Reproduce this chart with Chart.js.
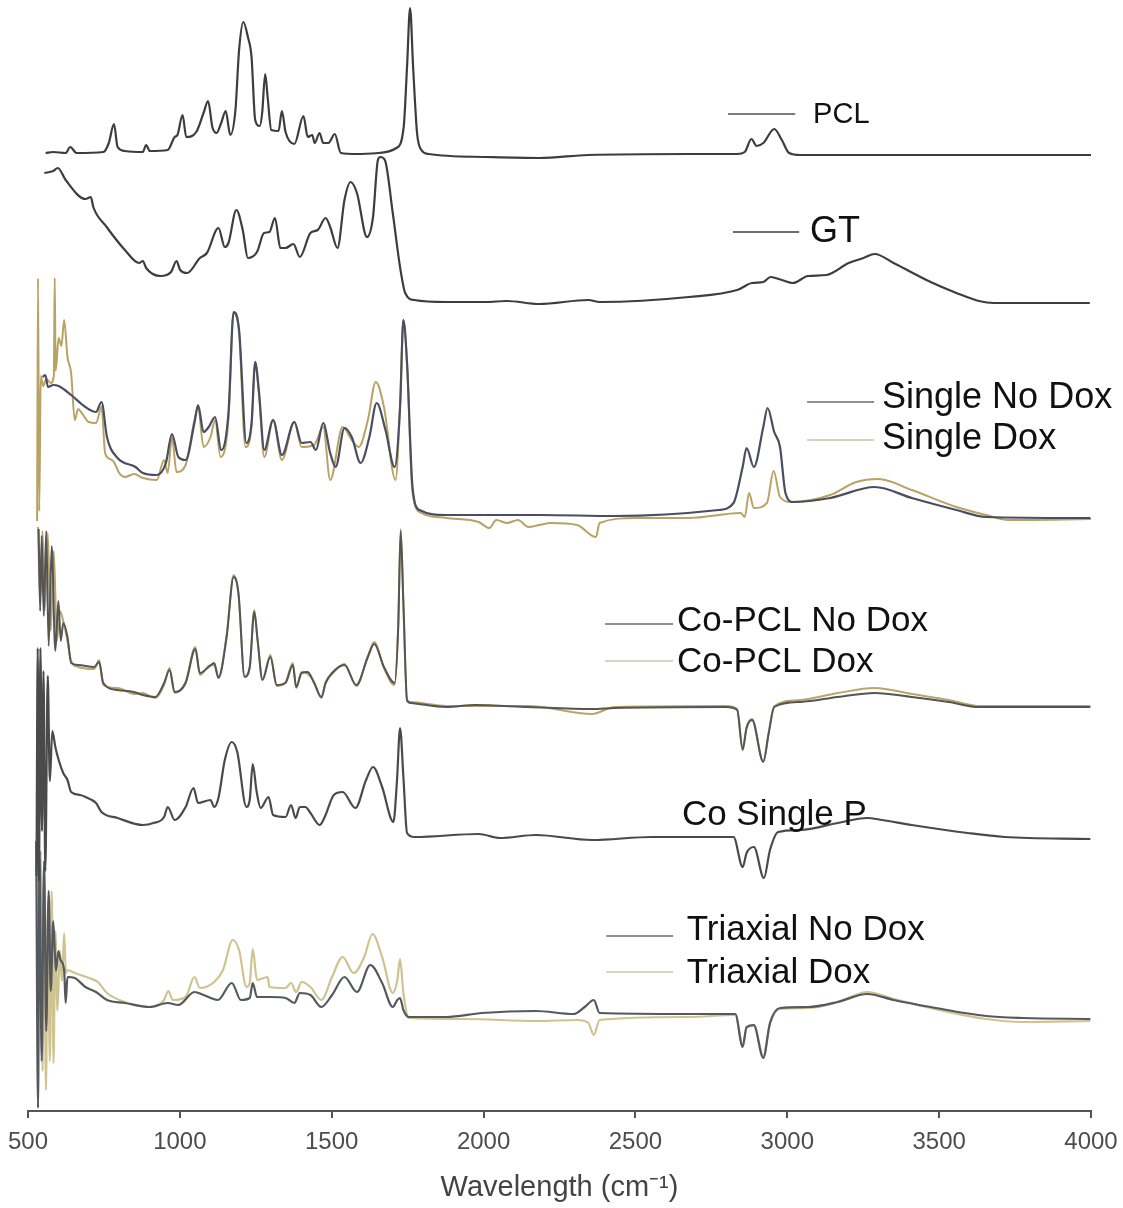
<!DOCTYPE html>
<html>
<head>
<meta charset="utf-8">
<script src="https://cdn.jsdelivr.net/npm/chart.js@4.4.1/dist/chart.umd.min.js"></script>
<style>
  body { margin: 0; background: #fff; }
  #wrap { width: 1123px; height: 1208px; }
  canvas { display: block; }
</style>
</head>
<body>
<div id="wrap"><canvas id="ftir" width="1123" height="1208"></canvas></div>
<script>
// FTIR spectra, stacked with offsets. pairs are [wavenumber cm-1, offset intensity]
const X_TICKS = [500, 1000, 1500, 2000, 2500, 3000, 3500, 4000];

const PCL = [[558,95.8],[583,95.9],[624,95.8],[639,96.4],[660,95.8],[748,95.9],[766,96.8],[783,98.7],[795,96.4],[819,96.0],[878,95.9],[889,96.6],[901,96.0],[960,96.1],[983,97.4],[992,97.6],[1009,99.6],[1021,97.4],[1054,97.9],[1078,99.8],[1093,101.0],[1107,98.4],[1121,97.8],[1136,98.8],[1151,100.0],[1166,97.6],[1183,100.1],[1195,106.1],[1209,108.9],[1224,107.4],[1236,105.4],[1248,99.1],[1263,98.5],[1271,99.8],[1281,103.7],[1289,101.4],[1301,98.1],[1325,98.0],[1336,100.0],[1348,97.9],[1377,96.7],[1407,99.5],[1421,97.4],[1436,97.6],[1444,96.8],[1460,97.8],[1472,96.8],[1489,96.8],[1510,97.7],[1530,95.8],[1583,95.7],[1654,95.8],[1713,96.3],[1737,98.4],[1748,104.4],[1758,110.3],[1768,104.4],[1781,97.8],[1795,96.1],[1819,95.7],[2007,95.4],[2183,95.3],[2345,95.6],[2676,95.7],[2835,95.7],[2860,95.9],[2882,97.2],[2899,96.5],[2921,96.8],[2957,98.2],[2982,97.1],[3006,95.8],[3043,95.6],[4000,95.6]];

const GT = [[554,93.8],[583,94.0],[598,94.3],[624,93.1],[689,91.2],[707,91.4],[715,90.4],[759,88.4],[819,86.1],[866,84.8],[878,85.0],[889,84.3],[936,83.5],[971,83.9],[989,85.0],[1001,84.1],[1024,83.8],[1066,85.3],[1089,85.8],[1127,88.3],[1148,86.4],[1160,86.8],[1186,90.1],[1207,88.1],[1224,85.3],[1254,85.9],[1277,87.8],[1295,87.9],[1313,89.3],[1331,86.3],[1348,86.3],[1374,86.7],[1395,85.4],[1430,87.8],[1454,88.1],[1480,89.3],[1495,88.4],[1519,86.3],[1542,91.1],[1562,92.9],[1583,91.8],[1616,87.4],[1636,89.4],[1652,95.1],[1660,95.4],[1675,95.1],[1701,89.8],[1725,84.4],[1742,81.8],[1772,81.1],[1877,80.9],[2007,80.9],[2077,81.0],[2183,80.7],[2345,81.1],[2382,80.9],[2676,81.4],[2835,82.1],[2884,82.8],[2921,82.9],[2945,83.4],[2982,83.1],[3019,82.8],[3068,83.5],[3129,83.6],[3202,84.8],[3251,85.3],[3288,85.7],[3350,84.8],[3472,82.9],[3557,81.8],[3631,81.0],[3680,80.8],[3996,80.8]];

const SINGLE_NO_DOX = [[548,73.4],[557,73.6],[566,72.4],[583,72.6],[601,72.5],[642,71.6],[689,70.4],[724,69.9],[742,70.9],[760,67.4],[795,65.3],[854,64.4],[878,63.8],[924,63.6],[954,64.8],[974,67.7],[995,65.4],[1019,65.1],[1048,68.8],[1060,70.6],[1078,67.9],[1095,68.4],[1116,69.4],[1136,66.1],[1160,69.8],[1177,79.9],[1195,78.1],[1219,66.8],[1236,68.8],[1248,74.9],[1260,72.1],[1278,66.1],[1307,69.1],[1336,65.6],[1377,68.9],[1401,66.8],[1430,66.9],[1448,66.1],[1472,68.8],[1495,65.8],[1513,64.4],[1542,68.3],[1566,67.4],[1595,64.8],[1624,67.4],[1648,70.8],[1677,68.1],[1707,64.4],[1725,70.4],[1736,79.1],[1748,74.8],[1766,62.4],[1789,60.1],[1877,59.6],[2186,59.6],[2431,59.5],[2774,60.1],[2823,60.8],[2853,64.4],[2866,66.3],[2890,64.4],[2921,68.4],[2935,70.3],[2957,67.9],[2976,66.4],[2994,61.8],[3019,60.9],[3141,61.3],[3288,62.4],[3410,61.3],[3557,60.1],[3655,59.4],[3998,59.3]];

const SINGLE_DOX = [[530,59.0],[533,83.3],[537,60.0],[542,73.5],[550,72.5],[560,73.2],[575,72.8],[585,73.5],[588,83.3],[591,74.0],[601,77.3],[610,76.5],[619,79.1],[630,75.4],[642,73.8],[654,69.1],[665,70.2],[677,69.8],[700,68.9],[724,68.8],[742,70.4],[754,65.8],[770,65.2],[783,64.9],[800,63.8],[819,63.4],[850,63.7],[878,63.3],[924,63.1],[948,65.1],[960,63.8],[974,67.4],[989,63.9],[1019,64.6],[1048,69.1],[1060,70.4],[1078,66.4],[1101,67.4],[1116,69.1],[1134,65.4],[1160,69.1],[1177,79.8],[1195,77.8],[1216,66.4],[1236,68.4],[1248,74.9],[1260,71.8],[1278,65.4],[1307,69.1],[1336,65.1],[1377,68.9],[1401,66.4],[1442,66.6],[1472,68.4],[1495,63.1],[1536,68.4],[1566,67.1],[1589,66.4],[1619,69.1],[1645,72.9],[1672,70.4],[1710,63.1],[1725,70.4],[1736,79.1],[1748,74.8],[1766,61.8],[1795,59.8],[1877,59.3],[1984,58.9],[2019,58.3],[2042,59.1],[2077,58.8],[2113,59.1],[2148,58.4],[2183,58.6],[2223,58.8],[2308,58.6],[2370,57.4],[2382,58.8],[2504,59.3],[2676,59.3],[2847,59.8],[2860,59.4],[2874,61.8],[2890,60.3],[2933,60.8],[2955,64.0],[2976,61.4],[3013,60.9],[3141,61.6],[3227,62.9],[3300,63.2],[3410,62.1],[3557,60.4],[3655,59.6],[3729,59.1],[4000,59.2]];

const COPCL_NO_DOX = [[535,58.2],[540,50.0],[545,57.5],[552,49.5],[560,58.0],[568,46.5],[578,56.5],[590,46.0],[600,51.0],[608,47.0],[616,48.8],[630,47.4],[642,44.8],[666,44.6],[718,44.4],[734,44.9],[748,42.8],[795,42.1],[848,41.9],[878,41.6],[919,41.4],[948,42.8],[966,44.1],[983,41.9],[1019,42.8],[1051,46.2],[1066,43.8],[1095,44.4],[1113,44.8],[1127,43.3],[1154,47.4],[1177,53.4],[1193,51.8],[1213,43.4],[1230,44.4],[1245,49.9],[1256,47.1],[1272,43.1],[1298,45.4],[1319,42.6],[1348,42.8],[1372,44.6],[1383,42.4],[1401,43.8],[1421,43.9],[1442,42.8],[1466,41.4],[1480,42.8],[1501,43.8],[1542,44.6],[1581,42.6],[1619,45.4],[1640,46.7],[1672,44.4],[1707,42.8],[1719,48.4],[1727,58.0],[1736,50.8],[1748,41.1],[1760,40.8],[1877,40.4],[1972,40.6],[2148,40.4],[2357,40.2],[2431,40.3],[2798,40.4],[2835,40.1],[2853,36.1],[2866,38.3],[2884,39.1],[2921,34.9],[2939,37.8],[2957,40.4],[3043,40.9],[3166,41.4],[3288,41.8],[3410,41.4],[3532,40.9],[3631,40.4],[3998,40.4]];

const COPCL_DOX = [[533,58.4],[540,51.0],[548,58.0],[555,50.0],[565,57.8],[575,48.0],[585,56.0],[595,47.0],[605,50.0],[616,49.0],[630,47.0],[642,45.0],[666,44.4],[718,44.2],[734,45.1],[748,42.6],[795,42.3],[848,41.7],[878,41.8],[919,41.3],[948,42.6],[966,44.3],[983,41.8],[1019,42.9],[1051,46.4],[1066,43.6],[1095,44.5],[1113,44.6],[1127,43.4],[1154,47.6],[1177,53.6],[1193,51.6],[1213,43.5],[1230,44.3],[1245,50.1],[1256,47.0],[1272,43.2],[1298,45.6],[1319,42.5],[1348,42.9],[1372,44.8],[1383,42.3],[1401,43.9],[1421,43.7],[1442,42.9],[1466,41.3],[1480,42.9],[1501,43.7],[1542,44.7],[1581,42.5],[1619,45.5],[1640,46.9],[1672,44.3],[1707,42.6],[1719,48.6],[1727,58.2],[1736,50.6],[1748,41.0],[1760,40.9],[1877,40.5],[1972,40.5],[2148,40.5],[2357,39.7],[2431,40.4],[2798,40.5],[2835,40.2],[2853,36.3],[2866,38.4],[2884,39.2],[2921,35.0],[2939,37.9],[2957,40.5],[3043,41.1],[3166,41.8],[3288,42.3],[3410,41.7],[3532,41.1],[3631,40.5],[3998,40.5]];

const CO_SINGLE_P = [[528,23.5],[532,46.3],[536,23.0],[541,46.3],[546,28.0],[551,44.0],[557,24.0],[565,43.5],[572,33.0],[580,38.0],[590,36.4],[601,35.1],[616,33.8],[630,33.1],[642,31.9],[672,31.6],[689,31.4],[724,30.8],[742,29.9],[795,29.3],[878,28.6],[913,28.8],[948,29.4],[960,30.4],[983,29.1],[1019,30.4],[1045,32.3],[1060,30.8],[1101,31.1],[1113,30.4],[1127,31.3],[1148,35.1],[1171,36.9],[1189,35.9],[1219,30.4],[1230,31.1],[1240,34.7],[1252,32.1],[1266,30.3],[1292,31.4],[1307,29.6],[1348,29.4],[1366,30.6],[1381,29.3],[1395,30.4],[1413,30.4],[1430,29.8],[1460,28.6],[1477,29.4],[1507,31.6],[1536,31.9],[1578,30.3],[1613,33.1],[1636,34.4],[1666,32.4],[1703,28.9],[1715,33.1],[1725,38.3],[1736,33.4],[1748,27.8],[1772,27.4],[1984,27.7],[2054,27.3],[2172,27.6],[2357,27.1],[2553,27.4],[2823,27.4],[2853,24.4],[2866,25.8],[2890,26.4],[2923,23.3],[2943,26.1],[2970,27.9],[3043,28.1],[3166,28.8],[3263,29.3],[3312,29.1],[3410,28.6],[3594,27.8],[3716,27.4],[3998,27.2]];

const TRI_NO_DOX = [[527,27.0],[533,0.3],[538,26.0],[545,5.0],[553,25.0],[560,8.0],[568,22.0],[575,12.0],[583,19.0],[592,14.0],[600,16.0],[607,15.1],[619,14.1],[624,10.8],[630,13.4],[654,13.3],[689,12.4],[724,11.9],[760,11.1],[819,10.8],[901,10.4],[960,10.8],[995,10.6],[1048,11.9],[1078,11.6],[1125,11.1],[1171,12.8],[1201,11.1],[1230,11.3],[1240,12.8],[1254,11.4],[1301,11.4],[1348,11.3],[1377,10.8],[1395,11.8],[1430,11.6],[1466,10.4],[1501,11.6],[1542,13.4],[1583,11.9],[1627,14.6],[1666,12.8],[1701,10.4],[1716,11.1],[1725,11.3],[1736,10.1],[1754,9.4],[1877,9.4],[1995,9.8],[2172,10.0],[2296,9.7],[2333,10.4],[2363,11.1],[2382,9.8],[2676,9.7],[2829,9.7],[2853,6.4],[2866,8.4],[2890,8.6],[2921,5.3],[2943,8.8],[2976,10.3],[3068,10.4],[3166,10.9],[3263,11.7],[3350,11.1],[3472,10.4],[3655,9.5],[3778,9.3],[3998,9.2]];

const TRI_DOX = [[530,27.0],[537,12.0],[542,26.0],[548,4.0],[553,24.0],[559,2.1],[565,20.0],[572,5.0],[578,22.0],[584,4.8],[590,18.0],[597,10.0],[605,16.0],[612,13.0],[619,17.8],[625,13.8],[630,14.1],[654,13.8],[701,13.3],[730,12.9],[760,11.8],[819,10.9],[901,10.4],[948,11.1],[962,12.0],[977,11.1],[1019,11.4],[1048,13.4],[1066,12.3],[1113,12.9],[1142,14.1],[1174,17.1],[1195,16.1],[1219,12.4],[1230,12.8],[1240,16.2],[1254,13.1],[1289,13.4],[1295,12.4],[1348,12.3],[1366,12.8],[1383,11.9],[1401,12.9],[1430,12.4],[1466,11.1],[1501,13.4],[1536,15.4],[1572,13.8],[1607,15.4],[1634,17.7],[1666,15.4],[1701,11.8],[1716,13.1],[1725,15.2],[1736,11.8],[1754,9.3],[1936,9.2],[2172,9.0],[2308,9.1],[2345,8.8],[2363,7.6],[2382,9.1],[2676,9.4],[2829,9.6],[2853,6.5],[2866,8.3],[2890,8.5],[2921,5.5],[2943,8.7],[2976,10.2],[3068,10.3],[3166,10.9],[3263,11.9],[3350,11.2],[3472,10.3],[3655,9.2],[3778,8.9],[3998,9.0]];

// inline legend entries: text anchor and key line, in data units
const LABELS = [
  { text: 'PCL', at: [3085, 98.8], size: 29, line: [2805, 3026, 99.7], lineColor: '#7c7c7c' },
  { text: 'GT', at: [3075, 86.9], size: 36, line: [2821, 3039, 87.9], lineColor: '#6f6f6f' },
  { text: 'Single No Dox', at: [3312, 70.3], size: 36, line: [3065, 3286, 70.9], lineColor: '#8d9099' },
  { text: 'Single Dox', at: [3312, 66.2], size: 36, line: [3065, 3286, 67.1], lineColor: '#d8d1ba' },
  { text: 'Co-PCL No Dox', at: [2637, 48.0], size: 35, line: [2400, 2624, 48.7], lineColor: '#8f9093' },
  { text: 'Co-PCL Dox', at: [2637, 43.9], size: 35, line: [2400, 2624, 45.0], lineColor: '#d9d3bf' },
  { text: 'Co Single P', at: [2653, 28.6], size: 35 },
  { text: 'Triaxial No Dox', at: [2669, 17.1], size: 35, line: [2404, 2624, 17.5], lineColor: '#8f9093' },
  { text: 'Triaxial Dox', at: [2669, 12.8], size: 35, line: [2404, 2624, 13.9], lineColor: '#d9d3bf' }
];

const FONT = '"Liberation Sans", Arial, Helvetica, sans-serif';

function toPoints(arr) {
  return arr.map(p => ({ x: p[0], y: p[1] }));
}

function series(label, arr, color, width) {
  return {
    label: label,
    data: toPoints(arr),
    borderColor: color,
    borderWidth: width,
    pointRadius: 0,
    cubicInterpolationMode: 'monotone',
    borderJoinStyle: 'round',
    fill: false
  };
}

const inlineLabels = {
  id: 'inlineLabels',
  afterDatasetsDraw(chart) {
    const { ctx, scales: { x, y } } = chart;
    ctx.save();
    LABELS.forEach(l => {
      if (l.line) {
        ctx.strokeStyle = l.lineColor;
        ctx.lineWidth = 2;
        ctx.beginPath();
        ctx.moveTo(x.getPixelForValue(l.line[0]), y.getPixelForValue(l.line[2]));
        ctx.lineTo(x.getPixelForValue(l.line[1]), y.getPixelForValue(l.line[2]));
        ctx.stroke();
      }
      ctx.font = l.size + 'px ' + FONT;
      ctx.fillStyle = '#111';
      ctx.textAlign = 'left';
      ctx.textBaseline = 'alphabetic';
      ctx.fillText(l.text, x.getPixelForValue(l.at[0]), y.getPixelForValue(l.at[1]));
    });
    ctx.restore();
  }
};

new Chart(document.getElementById('ftir'), {
  type: 'line',
  data: {
    datasets: [
      series('PCL', PCL, '#3d3d3d', 2.2),
      series('GT', GT, '#3d3d3d', 2.2),
      series('Single No Dox', SINGLE_NO_DOX, '#4a4e60', 2.2),
      series('Single Dox', SINGLE_DOX, '#b8a264', 2),
      series('Co-PCL No Dox', COPCL_NO_DOX, '#555555', 2),
      series('Co-PCL Dox', COPCL_DOX, '#b9a66c', 2),
      series('Co Single P', CO_SINGLE_P, '#4a4a4a', 2.2),
      series('Triaxial No Dox', TRI_NO_DOX, '#55595e', 2.2),
      series('Triaxial Dox', TRI_DOX, '#cfc391', 2.2)
    ]
  },
  options: {
    responsive: false,
    animation: false,
    layout: { padding: { left: 28, right: 32, top: 0, bottom: 3 } },
    plugins: {
      legend: { display: false },
      tooltip: { enabled: false }
    },
    scales: {
      x: {
        type: 'linear',
        min: 500,
        max: 4000,
        afterBuildTicks(scale) {
          scale.ticks = X_TICKS.map(v => ({ value: v }));
        },
        afterFit(scale) {
          scale.height = 94;
          // let the layout padding alone decide the plot edges
          scale.paddingLeft = 0;
          scale.paddingRight = 0;
        },
        ticks: {
          color: '#4d4d4d',
          padding: 10,
          maxRotation: 0,
          font: { family: FONT, size: 24 },
          callback: v => String(v)
        },
        grid: {
          drawOnChartArea: false,
          drawTicks: true,
          tickLength: 7,
          color: '#555',
          lineWidth: 2
        },
        border: { display: true, color: '#555', width: 2 },
        title: {
          display: true,
          text: 'Wavelength (cm⁻¹)',
          color: '#444',
          padding: 0,
          font: { family: FONT, size: 29 }
        }
      },
      y: {
        display: false,
        min: 0,
        max: 111.1
      }
    }
  },
  plugins: [inlineLabels]
});
</script>
</body>
</html>
